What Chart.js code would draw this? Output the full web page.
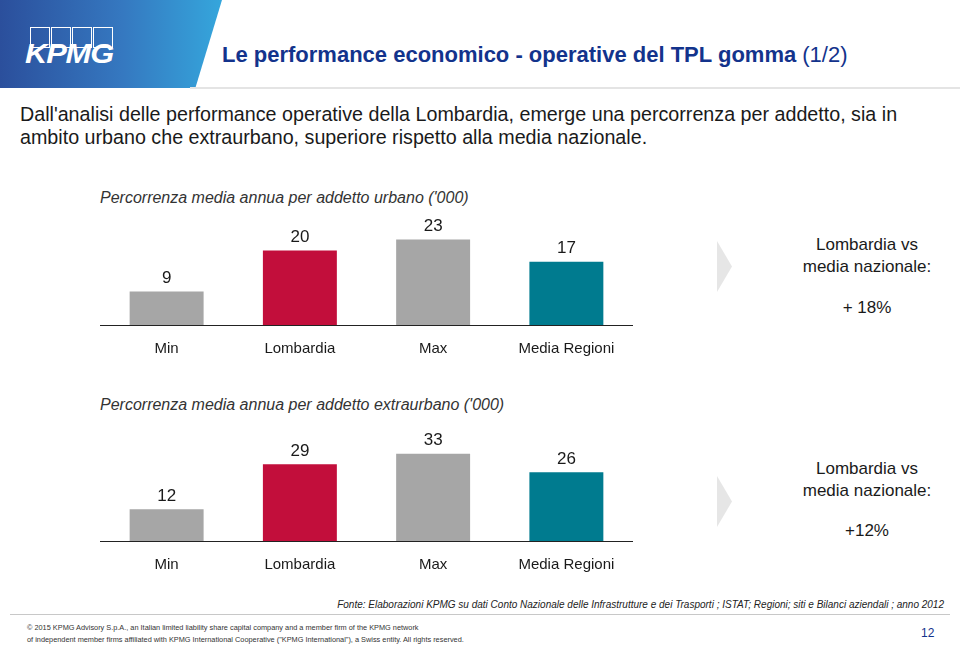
<!DOCTYPE html>
<html>
<head>
<meta charset="utf-8">
<script src="https://cdn.jsdelivr.net/npm/chart.js@4.4.1/dist/chart.umd.min.js"></script>
<style>
  body { margin: 0; background: #fff; font-family: "Liberation Sans", Arial, sans-serif; }
  #page { position: relative; width: 960px; height: 648px; overflow: hidden; }
  .abs { position: absolute; }
  #band { left: 0; top: 0; width: 222px; height: 88px;
    background: linear-gradient(90deg, #2b4f9c 0%, #3578c0 55%, #35a6dc 100%);
    clip-path: polygon(0 0, 100% 0, 88% 100%, 0 100%); }
  #rule { left: 190px; top: 87px; width: 770px; height: 2px; background: #e4e4e4; }
  .box { top: 27px; width: 18px; height: 19px; border: 1px solid #fff; }
  #logo { left: 25px; top: 38px; color: #fff; font: italic bold 28px "Liberation Sans", Arial; letter-spacing: -1px;
    transform: scaleX(1.1); transform-origin: left top; }
  #title { left: 222px; top: 42px; color: #13338c; font: bold 22px "Liberation Sans", Arial; white-space: nowrap; }
  #title span { font-weight: normal; }
  #sub { left: 20px; top: 103px; color: #1a1a1a; font-size: 19.7px; line-height: 23px; white-space: nowrap; }
  .ctitle { left: 100px; color: #333; font-style: italic; font-size: 16px; white-space: nowrap; }
  .arrow { width: 15px; height: 51px; background: #e6e6e6; clip-path: polygon(0 0, 100% 50%, 0 100%); }
  .note { left: 767px; width: 200px; text-align: center; color: #1a1a1a; font-size: 17px; line-height: 22px; }
  #fonte { right: 16px; top: 599px; color: #222; font-style: italic; font-size: 10px; white-space: nowrap; }
  #frule { left: 10px; top: 614px; width: 940px; height: 1px; background: #c8c8c8; }
  .copy { left: 27px; color: #333; font-size: 7.35px; white-space: nowrap; }
  #pnum { left: 921px; top: 626px; color: #13338c; font-size: 12px; }
</style>
</head>
<body>
<div id="page">
  <div id="band" class="abs"></div>
  <div id="rule" class="abs"></div>
  <div class="abs box" style="left:30px"></div>
  <div class="abs box" style="left:51px"></div>
  <div class="abs box" style="left:72px"></div>
  <div class="abs box" style="left:93px"></div>
  <div id="logo" class="abs">KPMG</div>
  <div id="title" class="abs">Le performance economico - operative del TPL gomma <span>(1/2)</span></div>
  <div id="sub" class="abs">Dall'analisi delle performance operative della Lombardia, emerge una percorrenza per addetto, sia in<br>ambito urbano che extraurbano, superiore rispetto alla media nazionale.</div>

  <div class="abs ctitle" style="top:189px">Percorrenza media annua per addetto urbano ('000)</div>
  <div class="abs" style="left:100px; top:200px; width:533px; height:173px"><canvas id="urbano"></canvas></div>
  <div class="abs arrow" style="left:717px; top:241px"></div>
  <div class="abs note" style="top:234px">Lombardia vs<br>media nazionale:</div>
  <div class="abs note" style="top:297px">+ 18%</div>

  <div class="abs ctitle" style="top:396px">Percorrenza media annua per addetto extraurbano ('000)</div>
  <div class="abs" style="left:100px; top:420px; width:533px; height:169px"><canvas id="extra"></canvas></div>
  <div class="abs arrow" style="left:717px; top:476px"></div>
  <div class="abs note" style="top:458px">Lombardia vs<br>media nazionale:</div>
  <div class="abs note" style="top:520px">+12%</div>

  <div id="fonte" class="abs">Fonte: Elaborazioni KPMG su dati Conto Nazionale delle Infrastrutture e dei Trasporti ; ISTAT; Regioni; siti e Bilanci aziendali ; anno 2012</div>
  <div id="frule" class="abs"></div>
  <div class="abs copy" style="top:623px">© 2015 KPMG Advisory S.p.A., an Italian limited liability share capital company and a member firm of the KPMG network</div>
  <div class="abs copy" style="top:635px">of independent member firms affiliated with KPMG International Cooperative ("KPMG International"), a Swiss entity. All rights reserved.</div>
  <div id="pnum" class="abs">12</div>
</div>

<script>
var categories = ["Min", "Lombardia", "Max", "Media Regioni"];
var urbanoValues = [9, 20, 23, 17];
var extraValues = [12, 29, 33, 26];
var barColors = ["#a6a6a6", "#c20e3b", "#a6a6a6", "#007b8f"];

// write the value above each bar
var valueLabels = {
  id: "valueLabels",
  afterDatasetsDraw: function (chart) {
    var ctx = chart.ctx;
    var meta = chart.getDatasetMeta(0);
    ctx.save();
    ctx.font = '17px "Liberation Sans", Arial';
    ctx.fillStyle = "#1a1a1a";
    ctx.textAlign = "center";
    ctx.textBaseline = "middle";
    meta.data.forEach(function (bar, i) {
      ctx.fillText(chart.data.datasets[0].data[i], bar.x, bar.y - 13);
    });
    ctx.restore();
  }
};

function makeChart(id, values, yMax) {
  return new Chart(document.getElementById(id), {
    type: "bar",
    data: {
      labels: categories,
      datasets: [{
        data: values,
        backgroundColor: barColors,
        barPercentage: 0.555,
        categoryPercentage: 1
      }]
    },
    options: {
      responsive: true,
      maintainAspectRatio: false,
      animation: false,
      layout: { padding: 0 },
      plugins: { legend: { display: false }, tooltip: { enabled: false } },
      scales: {
        x: {
          grid: { display: true, drawOnChartArea: false, drawTicks: false },
          border: { display: true, color: "#222", width: 1 },
          ticks: { color: "#1a1a1a", padding: 15, font: { size: 15, family: '"Liberation Sans", Arial' } }
        },
        y: { display: false, min: 0, max: yMax }
      }
    },
    plugins: [valueLabels]
  });
}

makeChart("urbano", urbanoValues, 33.6);
makeChart("extra", extraValues, 45.7);
</script>
</body>
</html>
